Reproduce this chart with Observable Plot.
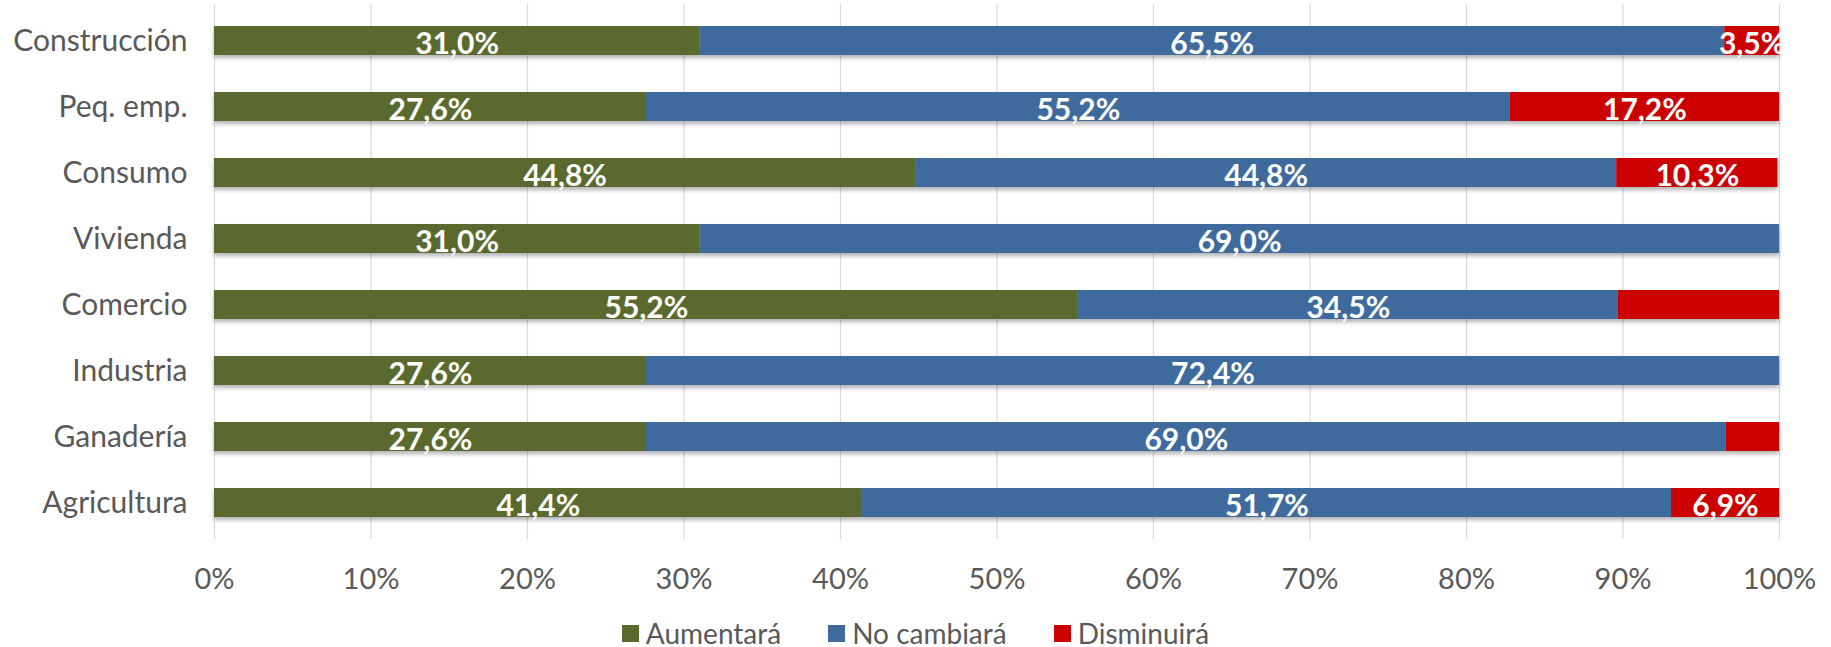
<!DOCTYPE html>
<html>
<head>
<meta charset="utf-8">
<script src="https://cdn.jsdelivr.net/npm/d3@7"></script>
<script src="https://cdn.jsdelivr.net/npm/@observablehq/plot@0.6"></script>
<style>
  html, body { margin: 0; padding: 0; background: #ffffff; overflow: hidden; }
  body { font-family: Lato, "Open Sans", sans-serif; width: 1831px; height: 647px; }
  #chart svg g[aria-label="bar"] { filter: drop-shadow(0px 3px 2px rgba(0,0,0,0.30)); }
  #legend .lg-swatches { font-family: Lato, "Open Sans", sans-serif; font-size: 28px; color: #595959; margin: 0; }
  #legend .lg-swatches-wrap { justify-content: center; margin-top: 16px; min-height: 33px; }
  #legend .lg-swatch { margin-right: 47px; }
  #legend .lg-swatch:last-child { margin-right: 0; }
  #legend .lg-swatch > svg { margin-right: 7px; }
</style>
</head>
<body>
<div id="chart"></div>
<div id="legend"></div>
<script>
// ---- Data ----
const sectors = ["Construcción", "Peq. emp.", "Consumo", "Vivienda", "Comercio", "Industria", "Ganadería", "Agricultura"];
const aumentara  = [31.0, 27.6, 44.8, 31.0, 55.2, 27.6, 27.6, 41.4];
const noCambiara = [65.5, 55.2, 44.8, 69.0, 34.5, 72.4, 69.0, 51.7];
const disminuira = [3.5, 17.2, 10.3, 0.0, 10.3, 0.0, 3.4, 6.9];
// whether the "Disminuirá" value is labelled in the original
const disminuiraLabeled = [true, true, true, false, false, false, false, true];
const seriesNames = ["Aumentará", "No cambiará", "Disminuirá"];
const seriesColors = ["#5a6a2e", "#3f6a9d", "#cc0000"];
const xTicks = [0, 10, 20, 30, 40, 50, 60, 70, 80, 90, 100];

// ---- Build table ----
const fmt = v => v.toFixed(1).replace(".", ",") + "%";
const rows = [];
sectors.forEach((s, i) => {
  rows.push({sector: s, serie: seriesNames[0], value: aumentara[i], label: fmt(aumentara[i])});
  rows.push({sector: s, serie: seriesNames[1], value: noCambiara[i], label: fmt(noCambiara[i])});
  rows.push({sector: s, serie: seriesNames[2], value: disminuira[i],
             label: (disminuiraLabeled[i] && disminuira[i] > 0) ? fmt(disminuira[i]) : ""});
});

const plot = Plot.plot({
  width: 1831,
  height: 600,
  marginLeft: 214,
  marginRight: 52,
  marginTop: 4,
  marginBottom: 61,
  style: {fontFamily: "Lato, 'Open Sans', sans-serif", background: "#ffffff"},
  x: {domain: [0, 100], label: null},
  y: {domain: sectors, paddingInner: 0.56, paddingOuter: 0.28, label: null},
  color: {domain: seriesNames, range: seriesColors},
  marks: [
    Plot.gridX(xTicks, {stroke: "#d9d9d9", strokeOpacity: 1, strokeWidth: 1.2}),
    Plot.barX(rows, Plot.stackX({x: "value", y: "sector", z: "serie", fill: "serie", order: seriesNames})),
    Plot.text(rows, Plot.stackX({
      x: "value", y: "sector", z: "serie", order: seriesNames, text: "label",
      fill: "#ffffff", fontSize: 30, fontWeight: "bold", dy: 3
    })),
    Plot.axisX(xTicks, {
      tickSize: 0, tickPadding: 29, fontSize: 29, fill: "#595959", label: null,
      tickFormat: d => d + "%"
    }),
    Plot.axisY({tickSize: 0, tickPadding: 27, fontSize: 30, fill: "#595959", label: null})
  ]
});
document.getElementById("chart").appendChild(plot);

const legend = Plot.legend({
  legend: "swatches",
  className: "lg",
  swatchSize: 17,
  color: {domain: seriesNames, range: seriesColors}
});
document.getElementById("legend").appendChild(legend);
</script>
</body>
</html>
